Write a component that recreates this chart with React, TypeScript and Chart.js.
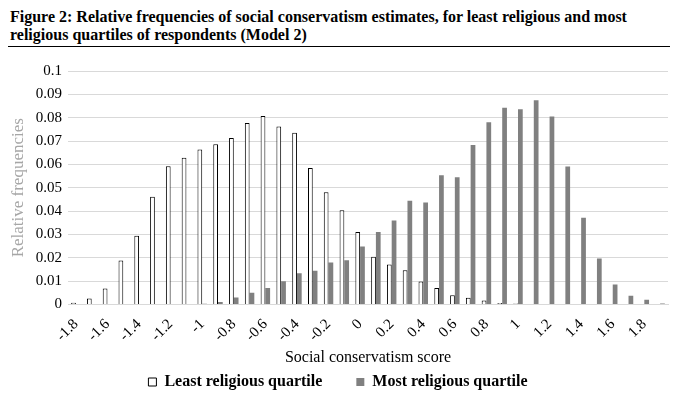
import { useEffect, useRef } from "react";
import { Chart, registerables } from "chart.js";

Chart.register(...registerables);

const categories = [
  "-1.8", "-1.7", "-1.6", "-1.5", "-1.4", "-1.3", "-1.2", "-1.1", "-1", "-0.9",
  "-0.8", "-0.7", "-0.6", "-0.5", "-0.4", "-0.3", "-0.2", "-0.1", "0", "0.1",
  "0.2", "0.3", "0.4", "0.5", "0.6", "0.7", "0.8", "0.9", "1", "1.1",
  "1.2", "1.3", "1.4", "1.5", "1.6", "1.7", "1.8", "1.9",
];

const leastReligious = [
  0.0007, 0.0026, 0.0068, 0.0188, 0.0294, 0.0461, 0.0592, 0.0628, 0.0664, 0.0686,
  0.0713, 0.0777, 0.0807, 0.0762, 0.0736, 0.0585, 0.0481, 0.0404, 0.0311, 0.0205,
  0.0171, 0.0147, 0.0098, 0.0071, 0.004, 0.0029, 0.0017, 0.0006, 0.0004, 0,
  0, 0, 0, 0, 0, 0, 0, 0,
];

const mostReligious = [
  0, 0, 0, 0, 0, 0, 0, 0, 0.0003, 0.0011,
  0.003, 0.005, 0.0071, 0.01, 0.0134, 0.0145, 0.018, 0.019, 0.0248, 0.0311,
  0.036, 0.0444, 0.0437, 0.0554, 0.0545, 0.0683, 0.078, 0.0843, 0.0836, 0.0875,
  0.0805, 0.0591, 0.0371, 0.0197, 0.0086, 0.0037, 0.002, 0.0004,
];

const serif = "'Liberation Serif', 'Times New Roman', serif";

Chart.defaults.font.family = serif;

const App = () => {
  const chartRef = useRef<HTMLCanvasElement>(null);

  useEffect(() => {
    if (!chartRef.current) return;
    const chart = new Chart(chartRef.current, {
      type: "bar",
      data: {
        labels: categories,
        datasets: [
          {
            label: "Least religious quartile",
            data: leastReligious,
            backgroundColor: "#ffffff",
            borderColor: "#000000",
            borderWidth: 1,
          },
          {
            label: "Most religious quartile",
            data: mostReligious,
            backgroundColor: "#808080",
            borderWidth: 0,
          },
        ],
      },
      options: {
        animation: false,
        responsive: false,
        maintainAspectRatio: false,
        datasets: { bar: { categoryPercentage: 0.6, barPercentage: 1 } },
        layout: { padding: { left: 8, right: 12, top: 21, bottom: 0 } },
        plugins: {
          tooltip: { enabled: false },
          legend: {
            position: "bottom",
            labels: {
              boxWidth: 8,
              boxHeight: 8,
              padding: 34,
              color: "#000",
              font: { family: serif, size: 16, weight: "bold" },
            },
          },
        },
        scales: {
          x: {
            afterFit: (scale) => {
              scale.height = 35.5;
            },
            grid: { display: false },
            border: { display: true, color: "#d9d9d9" },
            ticks: {
              autoSkip: false,
              minRotation: 45,
              maxRotation: 45,
              color: "#000",
              font: { family: serif, size: 15 },
              callback: (_v, i) => (i % 2 === 0 ? categories[i] : ""),
            },
            title: {
              display: true,
              text: "Social conservatism score",
              color: "#000",
              font: { family: serif, size: 16 },
              padding: { top: 0, bottom: -27 },
            },
          },
          y: {
            min: 0,
            max: 0.1,
            afterFit: (scale) => {
              scale.width = 60;
            },
            grid: { color: "#d9d9d9", drawTicks: false },
            border: { display: false },
            ticks: {
              stepSize: 0.01,
              autoSkip: false,
              padding: 6,
              color: "#000",
              font: { family: serif, size: 15 },
              callback: (v) => String(Number(Number(v).toFixed(2))),
            },
            title: {
              display: true,
              text: "Relative frequencies",
              color: "#a6a6a6",
              font: { family: serif, size: 17 },
              padding: 0,
            },
          },
        },
      },
    });
    return () => {
      chart.destroy();
    };
  }, []);

  return (
    <div style={{ position: "fixed", left: 0, top: 0, width: 680, height: 402, background: "#fff", overflow: "hidden" }}>
      <div
        style={{
          position: "absolute",
          left: 10,
          top: 8,
          width: 660,
          fontFamily: serif,
          fontWeight: "bold",
          fontSize: 16,
          lineHeight: "18px",
          color: "#000",
        }}
      >
        Figure 2: Relative frequencies of social conservatism estimates, for least religious and most religious quartiles of respondents (Model 2)
      </div>
      <div style={{ position: "absolute", left: 8, top: 46, width: 662, height: 1, background: "#000" }} />
      <canvas ref={chartRef} width={680} height={350} style={{ position: "absolute", left: 0, top: 50 }} />
    </div>
  );
};

export default App;
